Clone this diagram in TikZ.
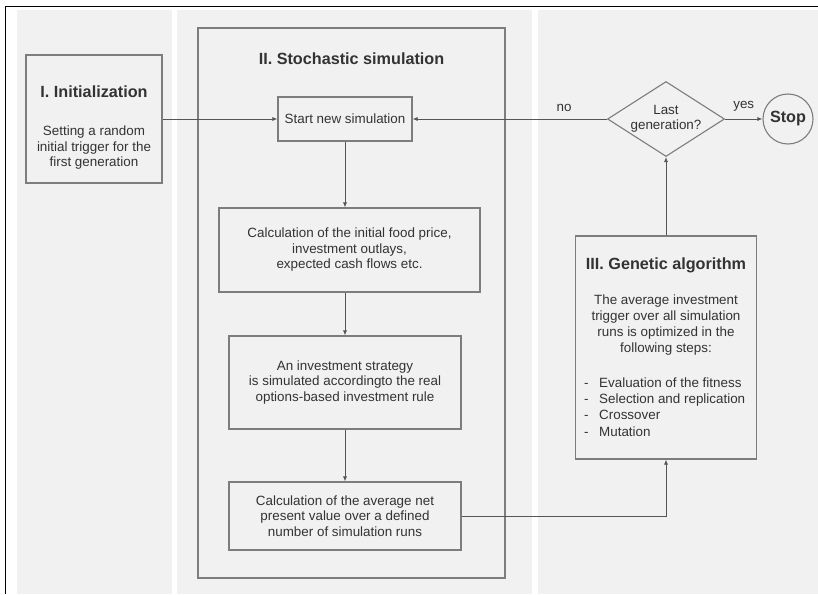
\documentclass[tikz,border=0pt]{standalone}
\usepackage{fontspec}
\setmainfont{Liberation Sans}
\usepackage{tikz}
\usetikzlibrary{shapes.geometric,arrows.meta}
\definecolor{panelgray}{RGB}{241,241,241}
\definecolor{boxgray}{RGB}{125,125,125}
\definecolor{linegray}{RGB}{85,85,85}
\newcommand\txtsize{\fontsize{13.4}{15.5}\selectfont}
\newcommand\hdsize{\fontsize{16.2}{18}\selectfont\bfseries}
\tikzset{
  box/.style={draw=boxgray, line width=1.1pt, inner sep=0pt, align=center, font=\txtsize, text=black!80},
  arr/.style={draw=linegray, line width=0.8pt, -{Latex[length=5pt,width=4pt]}},
  head/.style={font=\hdsize, text=black!80, inner sep=0pt}
}
\begin{document}
\begin{tikzpicture}[x=1pt,y=-1pt]
\useasboundingbox (0,0) rectangle (818,594);
\fill[panelgray] (17,10) rectangle (172,594);
\fill[panelgray] (177,10) rectangle (532,594);
\fill[panelgray] (538,10) rectangle (818,594);
\draw[black, line width=1pt] (5,594) -- (5,7) -- (818,7);
% I. initialization
\node[box, minimum width=136pt, minimum height=128pt] (init) at (94,119) {};
\node[head] (inittitle) at (94,92) {I. Initialization};
\node[align=center, font=\txtsize, text=black!80, inner sep=0pt] (inittext) at (94,148) {Setting a random\\initial trigger for the\\first generation};
% II. stochastic simulation
\node[box, minimum width=307pt, minimum height=550pt] (sim) at (351.5,303) {};
\node[head] (simtitle) at (351.5,59) {II. Stochastic simulation};
\node[box, minimum width=134pt, minimum height=44pt] (start) at (345,119) {Start new simulation};
\node[box, minimum width=261pt, minimum height=84pt] (calc) at (349.5,250) {Calculation of the initial food price,\\investment outlays,\\expected cash flows etc.};
\node[box, minimum width=232pt, minimum height=93pt] (strat) at (345,382.5) {An investment strategy\\is simulated accordingto the real\\options-based investment rule};
\node[box, minimum width=232pt, minimum height=68pt] (npv) at (345,516) {Calculation of the average net\\present value over a defined\\number of simulation runs};
% III. genetic algorithm
\node[box, minimum width=181pt, minimum height=223pt] (ga) at (666,347.5) {};
\node[head] (gatitle) at (666,265) {III. Genetic algorithm};
\node[align=center, font=\fontsize{13.4}{16.3}\selectfont, text=black!80, inner sep=0pt] (gatext) at (666,325) {The average investment\\trigger over all simulation\\runs is optimized in the\\following steps:};
\node[anchor=west, align=left, font=\fontsize{13.4}{16.3}\selectfont, text=black!80, inner sep=0pt] (galist) at (584,407) {\makebox[15pt][l]{-}Evaluation of the fitness\\\makebox[15pt][l]{-}Selection and replication\\\makebox[15pt][l]{-}Crossover\\\makebox[15pt][l]{-}Mutation};
\node[box, diamond, minimum width=117pt, minimum height=75pt, aspect=1.56] (last) at (666,119) {Last\\generation?};
\node[box, circle, minimum size=50pt, font=\hdsize] (stop) at (788,119) {Stop};
% connectors
\draw[arr] (init.east) -- (start.west);
\draw[arr] (start.south) -- (start.south |- calc.north);
\draw[arr] (start.south |- calc.south) -- (strat.north);
\draw[arr] (strat.south) -- (npv.north);
\draw[arr] (npv.east) -| (ga.south);
\draw[arr] (ga.north) -- (last.south);
\draw[arr] (last.west) -- node[pos=0.22, above=4pt, font=\txtsize, text=black!80] {no} (start.east);
\draw[arr] (last.east) -- node[above=4pt, font=\txtsize, text=black!80] {yes} (stop.west);
\end{tikzpicture}
\end{document}
